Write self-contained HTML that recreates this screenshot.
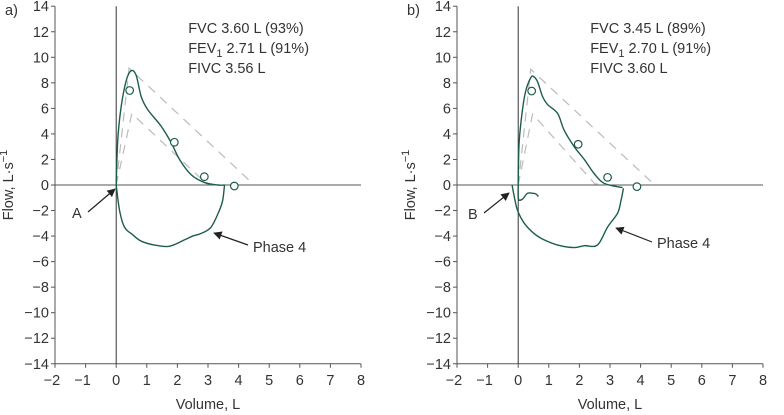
<!DOCTYPE html>
<html><head><meta charset="utf-8">
<style>
html,body{margin:0;padding:0;background:#fff;}
svg{display:block;font-family:"Liberation Sans",sans-serif;}
.tk{font-size:14.5px;fill:#333;}
.st{font-size:14.5px;fill:#333;}
</style></head>
<body>
<svg id="chart" width="784" height="415" viewBox="0 0 784 415" xmlns="http://www.w3.org/2000/svg">
<defs><marker id="ah" viewBox="0 0 10 10" refX="9" refY="5" markerWidth="7" markerHeight="7" orient="auto"><path d="M0,0 L10,5 L0,10 z" fill="#222"/></marker></defs>
</svg>
<script>
const xTicks=[-2,-1,0,1,2,3,4,5,6,7,8];
const yTicks=[14,12,10,8,6,4,2,0,-2,-4,-6,-8,-10,-12,-14];
const aExp=[[0,0],[0.05,3.5],[0.16,6.1],[0.33,8.2],[0.49,8.95],[0.65,8.6],[0.82,6.9],[1.03,5.9],[1.47,4.6],[1.8,3.3],[2.07,2.0],[2.45,0.8],[2.88,0.2],[3.32,0],[3.54,0]];
const aInsp=[[3.54,0],[3.48,-1.2],[3.37,-2.0],[3.1,-3.3],[2.77,-3.8],[2.5,-4.0],[2.23,-4.3],[1.74,-4.8],[1.25,-4.7],[0.82,-4.4],[0.54,-3.9],[0.27,-3.3],[0.11,-2.0],[0,0]];
const aPred=[[0.44,7.4],[1.9,3.35],[2.88,0.65],[3.86,-0.08]];
const bExp=[[0,0],[0.03,3.3],[0.14,5.9],[0.25,7.4],[0.41,8.4],[0.5,8.5],[0.63,8.1],[0.8,6.9],[0.96,6.3],[1.29,5.6],[1.5,4.3],[1.83,3.0],[2.16,2.0],[2.48,0.9],[2.81,0.13],[3.41,-0.2]];
const bInsp=[[3.44,-0.26],[3.36,-1.2],[3.25,-2.2],[2.92,-3.3],[2.59,-4.7],[2.16,-4.75],[1.83,-4.9],[1.29,-4.7],[0.85,-4.3],[0.52,-3.8],[0.2,-3.0],[-0.02,-2.0],[-0.13,-0.9],[-0.2,0]];
const bTail=[[0,0],[0.01,-1.1],[0.14,-1.1],[0.3,-0.65],[0.47,-0.65],[0.58,-0.7],[0.66,-0.9]];
const bPred=[[0.44,7.36],[1.96,3.19],[2.92,0.6],[3.88,-0.13]];
const aUpper=[[0,0],[0.42,9.15],[4.49,0.05]];
const aLower=[[0,0],[0.51,5.6],[2.95,0.1],[3.3,0]];
const bUpper=[[0,0],[0.41,9.06],[4.44,0.05]];
const bLower=[[0,0],[0.47,5.56],[2.5,0.1],[3.0,0]];

const NS="http://www.w3.org/2000/svg";
const svg=document.getElementById('chart');
function mk(tag,attrs,parent){const e=document.createElementNS(NS,tag);for(const k in attrs)e.setAttribute(k,attrs[k]);(parent||svg).appendChild(e);return e;}
function smooth(pts,X,Y){let d=`M${X(pts[0][0])},${Y(pts[0][1])}`;for(let i=0;i<pts.length-1;i++){const p0=pts[Math.max(0,i-1)],p1=pts[i],p2=pts[i+1],p3=pts[Math.min(pts.length-1,i+2)];
const c1x=X(p1[0])+(X(p2[0])-X(p0[0]))/6,c1y=Y(p1[1])+(Y(p2[1])-Y(p0[1]))/6,c2x=X(p2[0])-(X(p3[0])-X(p1[0]))/6,c2y=Y(p2[1])-(Y(p3[1])-Y(p1[1]))/6;
d+=` C${c1x},${c1y} ${c2x},${c2y} ${X(p2[0])},${Y(p2[1])}`;}return d;}
function poly(pts,X,Y){return pts.map((p,i)=>(i?'L':'M')+X(p[0])+','+Y(p[1])).join(' ');}

function panel(cfg){
  const g=mk('g',{});
  
  
  const X=v=>cfg.x0+(v+2)*30.6, Y=v=>185-v*12.77;
  const la=mk('line',{x1:X(-2),y1:Y(14),x2:X(-2),y2:Y(-14),stroke:'#555','stroke-width':1},g);
  
  
  const ba=mk('line',{x1:X(-2),y1:Y(-14),x2:X(8),y2:Y(-14),stroke:'#555','stroke-width':1},g);
  
  
  yTicks.forEach(t=>{mk('line',{x1:X(-2)-4,y1:Y(t),x2:X(-2),y2:Y(t),stroke:'#555'},g);
    const tx=mk('text',{x:X(-2)-6,y:Y(t)+5,'text-anchor':'end',class:'tk'},g);tx.textContent=(t<0?'\u2212'+(-t):t);
    
    });
  xTicks.forEach(t=>{mk('line',{x1:X(t),y1:Y(-14),x2:X(t),y2:Y(-14)+4,stroke:'#555'},g);
    const tx=mk('text',{x:X(t)-(t<0?3:0),y:Y(-14)+21,'text-anchor':'middle',class:'tk'},g);tx.textContent=(t<0?'\u2212'+(-t):t);
    
    });
  mk('line',{x1:X(-2),y1:Y(0),x2:X(8),y2:Y(0),stroke:'#555'},g);
  mk('line',{x1:X(0),y1:Y(14),x2:X(0),y2:Y(-14),stroke:'#333'},g);
  [cfg.upper,cfg.lower].forEach(p=>{const e=mk('path',{d:poly(p,X,Y),fill:'none',stroke:'#bbb','stroke-width':1.2,'stroke-dasharray':'9,7'},g);
    
    });
  [cfg.exp,cfg.insp].concat(cfg.tail?[cfg.tail]:[]).forEach(p=>{const e=mk('path',{d:smooth(p,X,Y),fill:'none',stroke:'#1d5e4a','stroke-width':1.4},g);
    
    });
  cfg.pred.forEach(p=>{const c=mk('circle',{cx:X(p[0]),cy:Y(p[1]),r:3.8,fill:'#fff',stroke:'#1d5e4a','stroke-width':1.2},g);
    
    });
  const yt=mk('text',{x:0,y:0,transform:`translate(${cfg.x0-42},185) rotate(-90)`,'text-anchor':'middle',class:'st'},g);
  yt.innerHTML='Flow, L·s<tspan dy="-6" font-size="11">−1</tspan>';
  
  
  const xt=mk('text',{x:X(3),y:409,'text-anchor':'middle',class:'st'},g);xt.textContent='Volume, L';
  
  
  const pl=mk('text',{x:cfg.x0-50,y:15,class:'st'},g);pl.textContent=cfg.label;
  
  
  cfg.stats.forEach((s,i)=>{const t=mk('text',{x:X(0)+72,y:33+i*20,class:'st'},g);t.innerHTML=s;
    
    });
  cfg.arrows.forEach(a=>{const l=mk('line',{x1:a[0],y1:a[1],x2:a[2],y2:a[3],stroke:'#222','stroke-width':1.2,'marker-end':'url(#ah)'},g);
    
    
    const t=mk('text',{x:a[4],y:a[5],class:'st'},g);t.textContent=a[6];
    
    });
}
panel({name:'panel-a',x0:55,label:'a)',exp:aExp,insp:aInsp,pred:aPred,upper:aUpper,lower:aLower,
  stats:['FVC 3.60 L (93%)','FEV<tspan dy="4" font-size="11">1</tspan><tspan dy="-4"> 2.71 L (91%)</tspan>','FIVC 3.56 L'],
  arrows:[[88,212,115,189,72,218,'A'],[248,245,214,233,253,252,'Phase 4']]});
panel({name:'panel-b',x0:457,label:'b)',exp:bExp,insp:bInsp,tail:bTail,pred:bPred,upper:bUpper,lower:bLower,
  stats:['FVC 3.45 L (89%)','FEV<tspan dy="4" font-size="11">1</tspan><tspan dy="-4"> 2.70 L (91%)</tspan>','FIVC 3.60 L'],
  arrows:[[484,213,509,193,468,219,'B'],[652,242,616,228,657,248,'Phase 4']]});
</script>
</body></html>
